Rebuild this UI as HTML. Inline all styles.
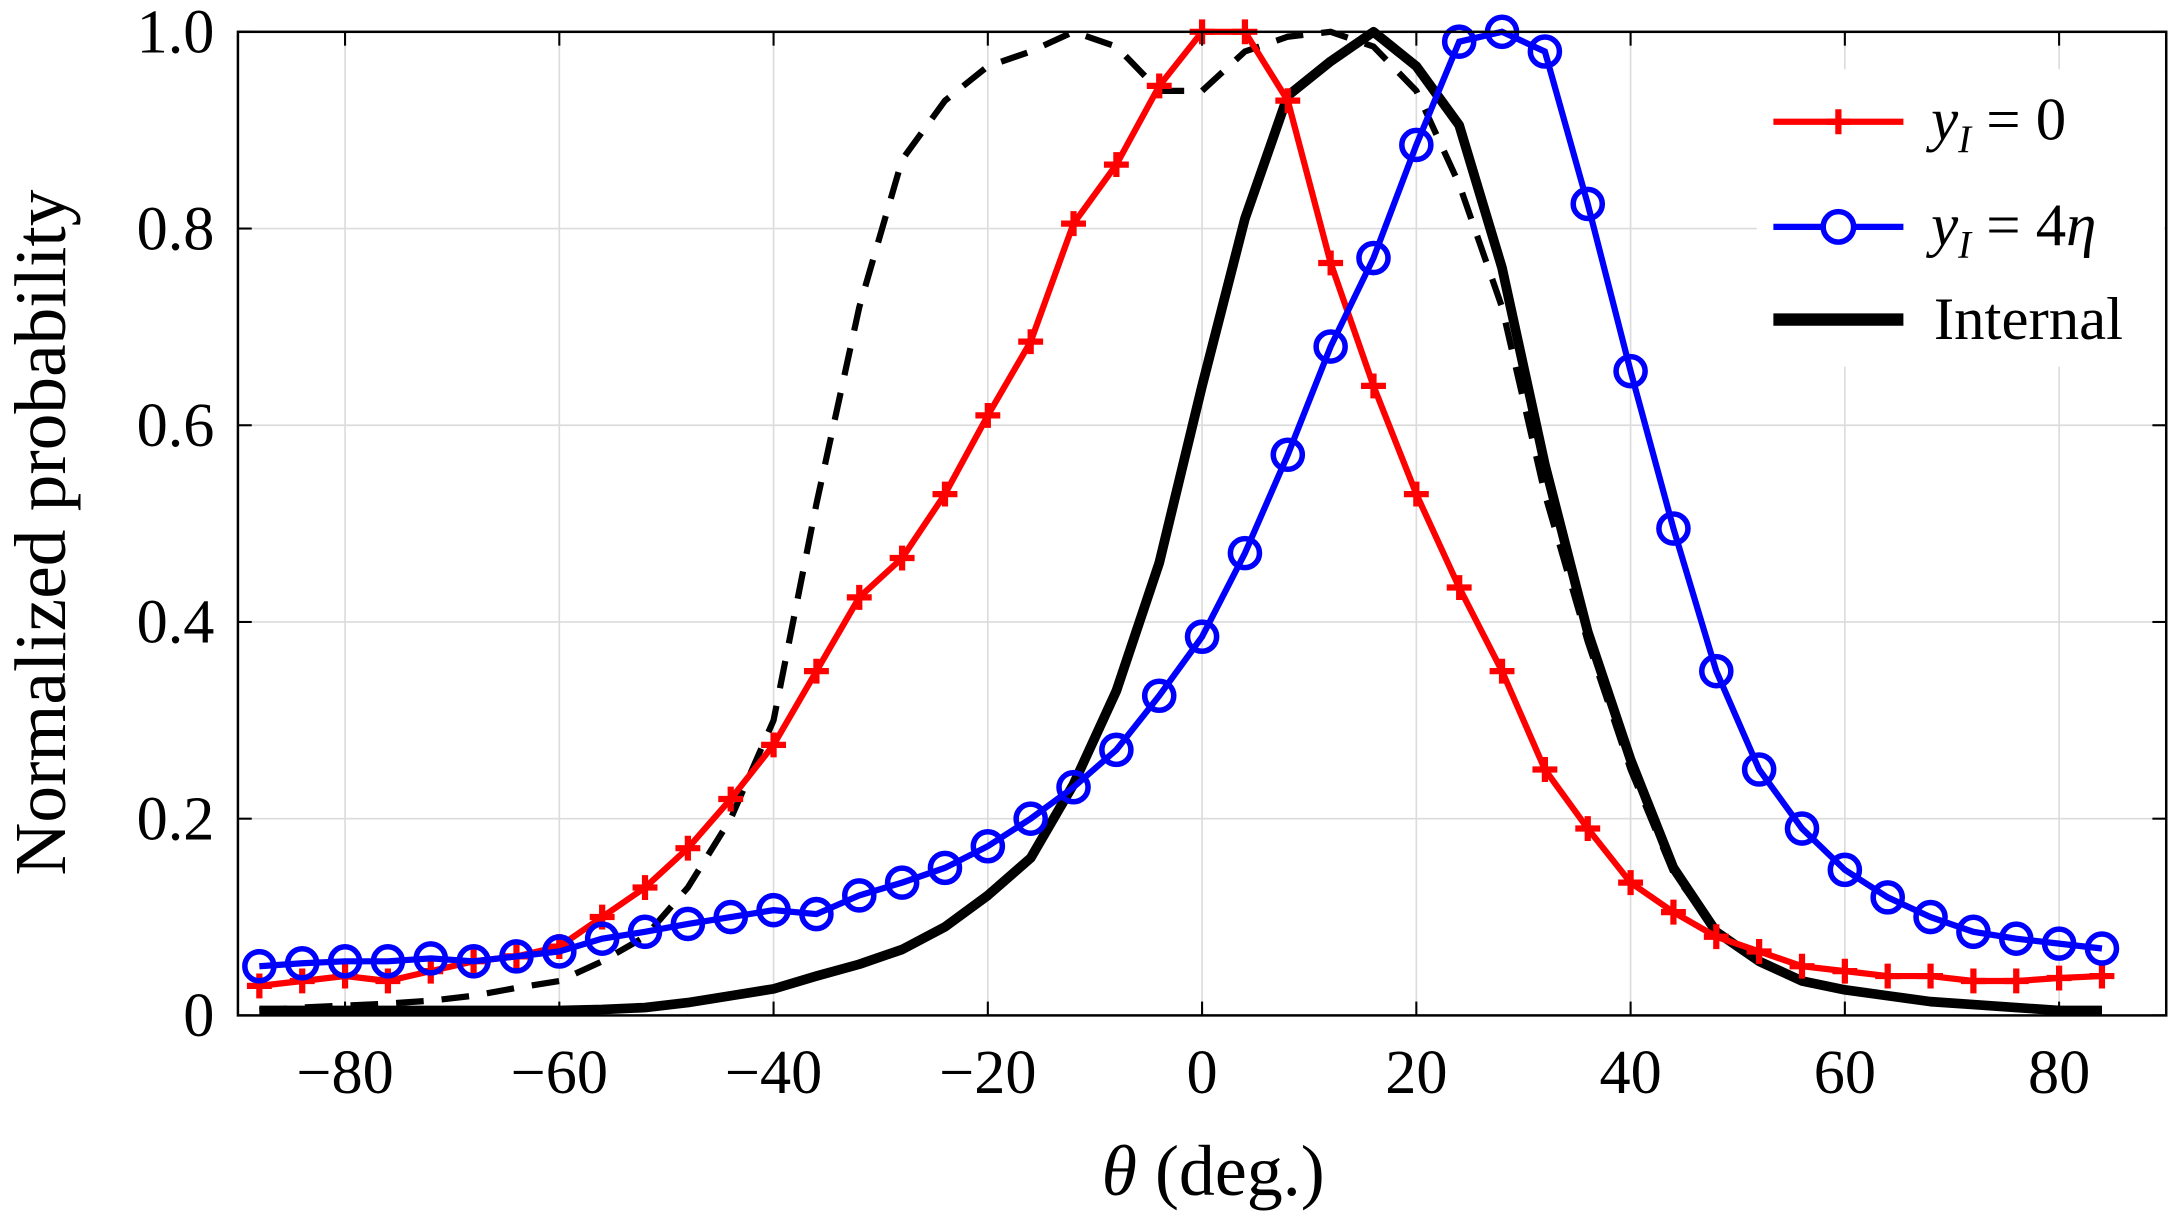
<!DOCTYPE html>
<html><head><meta charset="utf-8"><style>html,body{margin:0;padding:0;background:#fff}svg{display:block}text{font-family:"Liberation Serif",serif}</style></head>
<body>
<svg id="chart" width="2169" height="1216" viewBox="0 0 1568 879" preserveAspectRatio="none" xmlns="http://www.w3.org/2000/svg">
<g id="grid"></g>
<g id="series"></g>
<g id="axes"></g>
<text x="877" y="864" font-size="52" text-anchor="middle"><tspan font-style="italic">θ</tspan> (deg.)</text>
<text transform="translate(47,385) rotate(-90)" font-size="53" text-anchor="middle">Normalized probability</text>
<g>
<rect x="1270" y="50" width="295" height="215" fill="#fff"/>
<g>
<line x1="1282" y1="88" x2="1376" y2="88" stroke="#f00" stroke-width="4.5"/>
<path d="M1329 79v18M1320 88h18" stroke="#f00" stroke-width="4.5"/>
<text x="1396" y="101" font-size="44"><tspan font-style="italic">y<tspan font-size="28" dy="9">I</tspan></tspan><tspan dy="-9"> = 0</tspan></text></g>
<g>
<line x1="1282" y1="164" x2="1376" y2="164" stroke="#00f" stroke-width="4.5"/>
<circle cx="1329" cy="164" r="11" fill="#fff" stroke="#00f" stroke-width="4"/>
<text x="1396" y="177" font-size="44"><tspan font-style="italic">y<tspan font-size="28" dy="9">I</tspan></tspan><tspan dy="-9"> = 4</tspan><tspan font-style="italic">η</tspan></text></g>
<g>
<line x1="1282" y1="231" x2="1376" y2="231" stroke="#000" stroke-width="9"/>
<text x="1398" y="245" font-size="44">Internal</text></g>
</g>
<script>
const angles=[-88,-84,-80,-76,-72,-68,-64,-60,-56,-52,-48,-44,-40,-36,-32,-28,-24,-20,-16,-12,-8,-4,0,4,8,12,16,20,24,28,32,36,40,44,48,52,56,60,64,68,72,76,80,84];
const redY=[0.03,0.035,0.04,0.035,0.045,0.055,0.06,0.07,0.1,0.13,0.17,0.22,0.275,0.35,0.425,0.465,0.53,0.61,0.685,0.805,0.865,0.945,1.0,1.0,0.93,0.765,0.64,0.53,0.435,0.35,0.25,0.19,0.135,0.105,0.08,0.065,0.05,0.045,0.04,0.04,0.035,0.035,0.038,0.04];
const blueY=[0.05,0.053,0.055,0.055,0.058,0.055,0.06,0.065,0.078,0.085,0.093,0.1,0.107,0.103,0.122,0.135,0.15,0.172,0.2,0.232,0.27,0.325,0.385,0.47,0.57,0.68,0.77,0.885,0.99,1.0,0.98,0.825,0.655,0.495,0.35,0.25,0.19,0.148,0.12,0.1,0.085,0.078,0.073,0.068];
const internalY=[0.005,0.005,0.005,0.005,0.005,0.005,0.005,0.005,0.006,0.008,0.013,0.02,0.027,0.04,0.052,0.067,0.09,0.122,0.16,0.235,0.33,0.46,0.64,0.81,0.935,0.97,1.0,0.965,0.905,0.76,0.56,0.39,0.26,0.15,0.085,0.055,0.035,0.026,0.02,0.014,0.011,0.008,0.005,0.005];
const dashedY=[0.005,0.008,0.01,0.012,0.015,0.02,0.028,0.035,0.055,0.08,0.13,0.2,0.3,0.52,0.72,0.87,0.93,0.965,0.98,1.0,0.985,0.94,0.94,0.98,0.995,1.0,0.985,0.94,0.845,0.72,0.53,0.38,0.25,0.145,0.085,0.055,0.035,0.026,0.02,0.014,0.011,0.008,0.005,0.005];
const xTicks=[-80,-60,-40,-20,0,20,40,60,80];
const yTicks=[0,0.2,0.4,0.6,0.8,1.0];
const yTickLabels=["0","0.2","0.4","0.6","0.8","1.0"];
const L=172,R=1566,T=23,B=734;
const xs=v=>L+(v+90)/180*(R-L);
const ys=v=>B-v*(B-T);
const NS="http://www.w3.org/2000/svg";
function mk(tag,parent,attrs){const e=document.createElementNS(NS,tag);for(const k in attrs)e.setAttribute(k,attrs[k]);parent.appendChild(e);return e;}
const grid=document.getElementById('grid'),axes=document.getElementById('axes'),series=document.getElementById('series');
xTicks.forEach(t=>{const g=mk('line',grid,{x1:xs(t),x2:xs(t),y1:T,y2:B,stroke:'#dcdcdc','stroke-width':1.2});


mk('line',axes,{x1:xs(t),x2:xs(t),y1:B,y2:B-10,stroke:'#000','stroke-width':1.5});
mk('line',axes,{x1:xs(t),x2:xs(t),y1:T,y2:T+10,stroke:'#000','stroke-width':1.5});
const lb=mk('text',axes,{x:xs(t),y:790,'font-size':45,'text-anchor':'middle'});lb.textContent=(t<0?'−':'')+Math.abs(t);

});
yTicks.forEach((t,i)=>{if(t>0&&t<1){const g=mk('line',grid,{x1:L,x2:R,y1:ys(t),y2:ys(t),stroke:'#dcdcdc','stroke-width':1.2});

}
mk('line',axes,{x1:L,x2:L+10,y1:ys(t),y2:ys(t),stroke:'#000','stroke-width':1.5});
mk('line',axes,{x1:R,x2:R-10,y1:ys(t),y2:ys(t),stroke:'#000','stroke-width':1.5});
const lb=mk('text',axes,{x:155,y:ys(t)+15,'font-size':45,'text-anchor':'end'});lb.textContent=yTickLabels[i];

});
const fr=mk('rect',axes,{x:L,y:T,width:R-L,height:B-T,fill:'none',stroke:'#000','stroke-width':1.8});


const pts=arr=>arr.map((v,i)=>xs(angles[i])+','+ys(v)).join(' ');
const dl=mk('polyline',series,{points:pts(dashedY),fill:'none',stroke:'#000','stroke-width':4.5,'stroke-dasharray':'20 13'});


const il=mk('polyline',series,{points:pts(internalY),fill:'none',stroke:'#000','stroke-width':7,'stroke-linejoin':'round'});


const rl=mk('polyline',series,{points:pts(redY),fill:'none',stroke:'#f00','stroke-width':4.5});


redY.forEach((v,i)=>{const x=xs(angles[i]),y=ys(v);const m=mk('path',series,{d:`M${x} ${y-9}v18M${x-9} ${y}h18`,stroke:'#f00','stroke-width':4.5});

});
const bl=mk('polyline',series,{points:pts(blueY),fill:'none',stroke:'#00f','stroke-width':4.5});


blueY.forEach((v,i)=>{const c=mk('circle',series,{cx:xs(angles[i]),cy:ys(v),r:10.5,fill:'none',stroke:'#00f','stroke-width':4});

});
</script>
</svg>
</body></html>
